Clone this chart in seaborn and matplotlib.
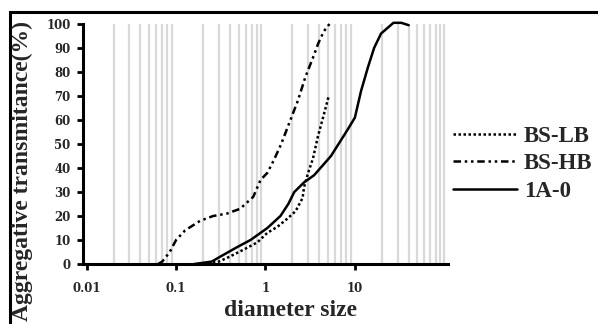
import matplotlib
matplotlib.use("Agg")
import matplotlib.pyplot as plt
from matplotlib.patches import Rectangle
from matplotlib.ticker import LogLocator, NullFormatter
import pandas as pd
import seaborn as sns

# diameter (x) and cumulative transmittance % (y)
lb_size = [0.2, 0.3, 0.37, 0.57, 0.81, 1.05, 1.36, 1.77, 2.17, 2.6, 2.7, 3.0, 3.4, 3.85, 4.4, 4.7, 5.1]
lb_pct = [0, 1, 2.5, 6, 9, 13, 15.5, 19, 22, 27.5, 32, 38, 44, 53, 61, 65, 70]

hb_size = [0.063, 0.07, 0.085, 0.1, 0.126, 0.186, 0.26, 0.37, 0.52, 0.73, 0.88, 1.05, 1.23, 1.5,
           1.9, 2.3, 2.8, 3.4, 3.9, 4.5, 5.2]
hb_pct = [0, 1, 5, 10, 14, 18, 20, 21, 23, 28, 35, 38, 43, 50, 60, 68, 78, 86, 92, 97, 100]

a0_size = [0.16, 0.25, 0.31, 0.48, 0.68, 1.05, 1.47, 1.8, 2.1, 2.7, 3.5, 5.4, 8.3, 10, 11.7, 14,
           16.4, 19.6, 27, 33, 40]
a0_pct = [0, 1, 3, 7, 10, 15, 20, 25, 30, 34, 37, 45, 56, 61, 72, 82, 90, 96, 100.5, 100.5, 99.5]

series_names = ["BS-LB", "BS-HB", "1A-0"]
x_ticks = [0.01, 0.1, 1, 10]
x_tick_labels = ["0.01", "0.1", "1", "10"]
y_ticks = list(range(0, 101, 10))


def build_frame() -> pd.DataFrame:
    parts = []
    for name, xs, ys in zip(series_names, [lb_size, hb_size, a0_size], [lb_pct, hb_pct, a0_pct]):
        parts.append(pd.DataFrame({"size": xs, "pct": ys, "sample": name}))
    return pd.concat(parts, ignore_index=True)


def main() -> None:
    df = build_frame()

    sns.set_theme(style="white")
    plt.rcParams["font.family"] = ["Liberation Serif", "DejaVu Serif"]

    W, H = 598, 324
    fig = plt.figure(figsize=(W / 100, H / 100), dpi=100)
    ax = fig.add_axes([83 / W, (H - 264) / H, (448 - 83) / W, (264 - 24) / H])

    dashes = {"BS-LB": (1, 1), "BS-HB": (3, 1.5, 1, 1.5, 1, 1.5), "1A-0": ""}
    sns.lineplot(data=df, x="size", y="pct", hue="sample", style="sample",
                 hue_order=series_names, style_order=series_names,
                 palette={n: "black" for n in series_names}, dashes=dashes,
                 estimator=None, sort=True, linewidth=1.8, ax=ax)

    ax.set_xscale("log")
    ax.set_xlim(0.0091, 110)
    ax.set_ylim(0, 100)

    for line in ax.get_lines():
        line.set_clip_on(False)

    # vertical grey log grid, none at 0.01
    ax.xaxis.set_minor_locator(LogLocator(base=10, subs=range(1, 10)))
    ax.xaxis.set_minor_formatter(NullFormatter())
    ax.set_xticks(x_ticks)
    ax.set_xticklabels(x_tick_labels)
    ax.grid(True, axis="x", which="minor", color="#d9d9d9", linewidth=1.6)
    ax.grid(False, axis="x", which="major")
    ax.grid(False, axis="y")
    ax.set_axisbelow(True)
    fig.canvas.draw()
    for gl, loc in zip(ax.get_xgridlines(), ax.xaxis.get_minorticklocs()):
        if loc < 0.011:
            gl.set_visible(False)

    ax.set_yticks(y_ticks)
    for lab in ax.get_xticklabels() + ax.get_yticklabels():
        lab.set_fontfamily("DejaVu Serif")
        lab.set_fontweight("bold")
        lab.set_fontsize(8.5)

    ax.tick_params(axis="both", which="major", direction="out", length=4, width=2,
                   color="black", bottom=True, left=True)
    ax.tick_params(axis="x", which="minor", length=0)
    ax.tick_params(axis="x", pad=9)
    ax.tick_params(axis="y", pad=5)

    sns.despine(ax=ax)
    for side in ("left", "bottom"):
        ax.spines[side].set_linewidth(2.2)
        ax.spines[side].set_color("black")

    ax.set_xlabel("")
    ax.set_ylabel("")
    fig.text(290 / W, (H - 310) / H, "diameter size", ha="center", va="center",
             fontsize=17, fontweight="bold")
    fig.text(22 / W, (H - 171) / H, "Aggregative transmitance(%)", ha="center", va="center",
             rotation=90, fontsize=17, fontweight="bold")

    handles, labels = ax.get_legend_handles_labels()
    ax.get_legend().remove()
    for h in handles:
        h.set_linewidth(1.8)
    fig.legend(handles, labels, loc="upper left", bbox_to_anchor=(453 / W, (H - 126) / H),
               frameon=False, prop={"weight": "bold", "size": 16.5},
               handlelength=2.8, handletextpad=0.3, labelspacing=0.28,
               borderpad=0, borderaxespad=0)

    # outer frame, only left and top edges fall inside the image
    fig.patches.append(Rectangle((10 / W, -0.1), 1.0, (H - 12) / H + 0.1,
                                 transform=fig.transFigure, fill=False,
                                 edgecolor="black", linewidth=2.2))

    fig.savefig("out.png", dpi=100, facecolor="white")
    plt.close(fig)


if __name__ == "__main__":
    main()
